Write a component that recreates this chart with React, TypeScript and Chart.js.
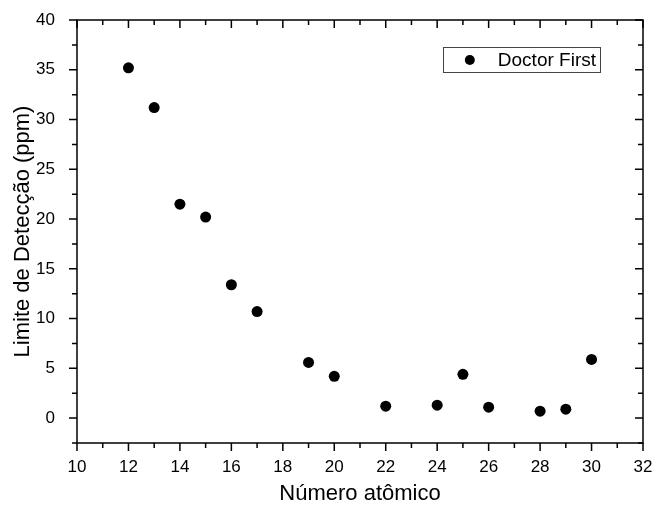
import React, { useEffect, useRef } from "react";
import { Chart, registerables } from "chart.js";

Chart.register(...registerables);

const atomicNumbers = [12, 13, 14, 15, 16, 17, 19, 20, 22, 24, 25, 26, 28, 29, 30];
const detectionLimits = [35.2, 31.2, 21.5, 20.2, 13.4, 10.7, 5.6, 4.2, 1.2, 1.3, 4.4, 1.1, 0.7, 0.9, 5.9];
const seriesLabel = "Doctor First";
const xTitle = "Número atômico";
const yTitle = "Limite de Detecção (ppm)";
const xRange = [10, 32];
const yRange = [-2.5, 40];

const FONT = "'Liberation Sans', Arial, sans-serif";

const framePlugin = {
  id: "originFrame",
  afterDraw(chart: any) {
    const { ctx, chartArea } = chart;
    const { left, right, top, bottom } = chartArea;
    const xs = chart.scales.x;
    const ys = chart.scales.y;
    ctx.save();
    ctx.strokeStyle = "#000";
    ctx.lineWidth = 1.5;
    ctx.strokeRect(left, top, right - left, bottom - top);
    ctx.beginPath();
    for (let v = xRange[0]; v <= xRange[1] + 1e-9; v += 1) {
      const px = xs.getPixelForValue(v);
      const major = v % 2 === 0;
      const len = major ? 8 : 5;
      ctx.moveTo(px, bottom);
      ctx.lineTo(px, bottom + len);
      ctx.moveTo(px, top);
      ctx.lineTo(px, top + len);
    }
    for (let v = yRange[0]; v <= yRange[1] + 1e-9; v += 2.5) {
      const py = ys.getPixelForValue(v);
      const major = Math.abs(v % 5) < 1e-9;
      const len = major ? 8 : 5;
      ctx.moveTo(left, py);
      ctx.lineTo(left - len, py);
      ctx.moveTo(right, py);
      ctx.lineTo(right - len, py);
    }
    ctx.stroke();

    // legend box
    const label = chart.data.datasets[0].label;
    ctx.font = `19px ${FONT}`;
    const tw = ctx.measureText(label).width;
    const boxRight = right - 43;
    const boxLeft = boxRight - (55 + tw + 4);
    const boxTop = top + 27;
    const boxH = 25;
    ctx.lineWidth = 1;
    ctx.strokeStyle = "#444";
    ctx.strokeRect(Math.round(boxLeft) + 0.5, Math.round(boxTop) + 0.5, Math.round(boxRight - boxLeft), boxH);
    ctx.fillStyle = "#000";
    ctx.beginPath();
    ctx.arc(boxLeft + 27, boxTop + boxH / 2 + 0.5, 5, 0, Math.PI * 2);
    ctx.fill();
    ctx.textBaseline = "middle";
    ctx.textAlign = "left";
    ctx.fillText(label, boxLeft + 55, boxTop + boxH / 2 + 1.5);
    ctx.restore();
  },
};

export default function App() {
  const canvasRef = useRef<HTMLCanvasElement | null>(null);

  useEffect(() => {
    document.body.style.margin = "0";
    const canvas = canvasRef.current;
    if (!canvas) return;
    const chart = new Chart(canvas, {
      type: "scatter",
      data: {
        datasets: [
          {
            label: seriesLabel,
            data: atomicNumbers.map((x, i) => ({ x, y: detectionLimits[i] })),
            backgroundColor: "#000",
            borderColor: "#000",
            pointRadius: 5.5,
            pointHoverRadius: 5.5,
            borderWidth: 0,
          },
        ],
      },
      options: {
        responsive: false,
        animation: false,
        devicePixelRatio: 1,
        layout: { padding: { top: 20, right: 12, left: 0, bottom: 0 } },
        plugins: {
          legend: { display: false },
          tooltip: { enabled: false },
        },
        scales: {
          x: {
            type: "linear",
            min: xRange[0],
            max: xRange[1],
            grid: { display: false },
            border: { display: false },
            ticks: {
              stepSize: 2,
              color: "#000",
              font: { family: FONT, size: 17 },
              padding: 6,
              maxRotation: 0,
            },
            title: {
              display: true,
              text: xTitle,
              color: "#000",
              font: { family: FONT, size: 22 },
              padding: { top: 0, bottom: 2 },
            },
            afterFit: (scale: any) => {
              scale.height = 66;
              scale.paddingLeft = 0;
              scale.paddingRight = 0;
            },
          },
          y: {
            type: "linear",
            min: yRange[0],
            max: yRange[1],
            grid: { display: false },
            border: { display: false },
            afterBuildTicks: (scale: any) => {
              scale.ticks = scale.ticks.filter((t: any) => Math.abs(t.value % 5) < 1e-9);
            },
            ticks: {
              stepSize: 5,
              color: "#000",
              font: { family: FONT, size: 17 },
              padding: 14,
            },
            title: {
              display: true,
              text: yTitle,
              color: "#000",
              font: { family: FONT, size: 22 },
              padding: { top: 10, bottom: 0 },
            },
            afterFit: (scale: any) => {
              scale.width = 77;
              scale.paddingTop = 0;
              scale.paddingBottom = 0;
            },
          },
        },
      },
      plugins: [framePlugin],
    });
    return () => chart.destroy();
  }, []);

  return (
    <div style={{ width: 655, height: 509, background: "#fff" }}>
      <canvas ref={canvasRef} width={655} height={509} />
    </div>
  );
}
